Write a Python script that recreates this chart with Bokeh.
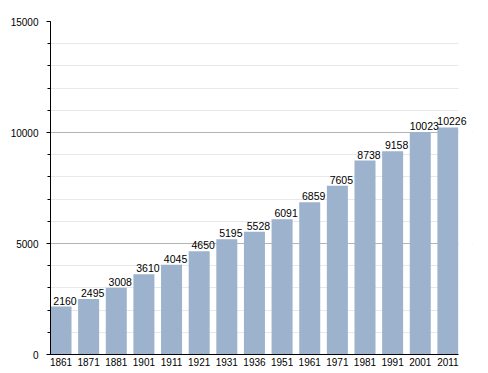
from bokeh.plotting import figure
from bokeh.models import ColumnDataSource, Range1d, SingleIntervalTicker, FixedTicker, LabelSet, BoxAnnotation
from bokeh.core.properties import value
from bokeh.embed import file_html
from bokeh.resources import INLINE

years = ["1861", "1871", "1881", "1901", "1911", "1921", "1931", "1936",
         "1951", "1961", "1971", "1981", "1991", "2001", "2011"]
population = [2160, 2495, 3008, 3610, 4045, 4650, 5195, 5528,
              6091, 6859, 7605, 8738, 9158, 10023, 10226]

idx = list(range(len(years)))
src = ColumnDataSource(dict(x=idx, top=population, label=[str(v) for v in population]))

x_end = len(years) - 1 + 0.38
x_room = x_end + 0.51
p = figure(width=488, height=370, output_backend="svg", toolbar_location=None,
           x_range=Range1d(-0.38, x_room), y_range=Range1d(0, 15000),
           min_border_left=50, min_border_right=16, min_border_top=21, min_border_bottom=16)
p.outline_line_color = None
p.background_fill_color = "white"

p.vbar(x="x", top="top", width=0.76, source=src, color="#9cb2cd", line_color=None)

# hide grid beyond the last bar (extra frame room only for the last label)
mask = BoxAnnotation(left=x_end, right=x_room + 1, fill_color="white", fill_alpha=1.0,
                     line_color=None, level="glyph")
p.add_layout(mask)

labels = LabelSet(x="x", y="top", text="label", source=src, x_offset=4, y_offset=2,
                  text_align="center", text_baseline="bottom",
                  text_font=value("Liberation Sans"), text_font_size="10.5px", text_color="black")
p.add_layout(labels)

# y axis
p.yaxis.ticker = SingleIntervalTicker(interval=5000, num_minor_ticks=5)
p.yaxis.axis_line_color = "black"
p.yaxis.major_tick_line_color = "black"
p.yaxis.minor_tick_line_color = "black"
p.yaxis.major_tick_out = 4
p.yaxis.major_tick_in = 0
p.yaxis.minor_tick_out = 3
p.yaxis.minor_tick_in = 0
p.yaxis.major_label_standoff = 8
p.yaxis.major_label_text_font = "Liberation Sans"
p.yaxis.major_label_text_font_size = "10px"
p.yaxis.major_label_text_color = "black"

p.ygrid.grid_line_color = "#b4b4b4"
p.ygrid.minor_grid_line_color = "#e8e8e8"
p.xgrid.grid_line_color = None

# x axis
p.xaxis.ticker = FixedTicker(ticks=idx)
p.xaxis.bounds = (-0.38, x_end)
p.xaxis.major_label_overrides = {i: y for i, y in zip(idx, years)}
p.xaxis.axis_line_color = "black"
p.xaxis.major_tick_line_color = None
p.xaxis.minor_tick_line_color = None
p.xaxis.major_tick_out = 0
p.xaxis.major_tick_in = 0
p.xaxis.major_label_standoff = 3
p.xaxis.major_label_text_font = "Liberation Sans"
p.xaxis.major_label_text_font_size = "10px"
p.xaxis.major_label_text_color = "black"

open("out.html", "w").write(file_html(p, INLINE))
